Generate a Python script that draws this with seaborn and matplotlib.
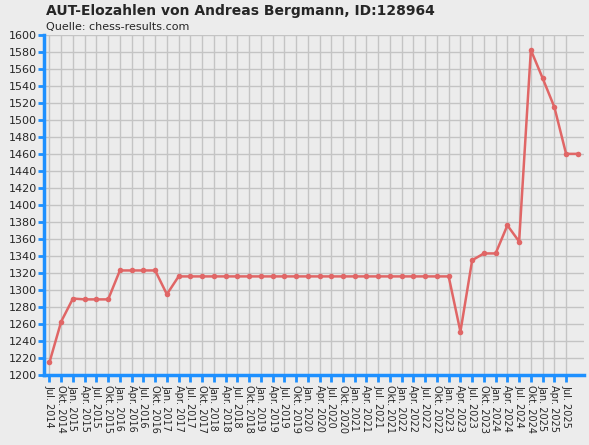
import matplotlib
matplotlib.use('Agg')
import matplotlib.pyplot as plt
import seaborn as sns
import pandas as pd

months = ['Jan.', 'Apr.', 'Jul.', 'Okt.']
labels = []
for y in range(2014, 2026):
    for m in months:
        labels.append(m + ' ' + str(y))
labels = labels[2:47]

elo = [1215, 1263, 1290, 1289, 1289, 1289, 1323, 1323, 1323, 1323,
       1295, 1316] + [1316] * 23 + [1251, 1335, 1343, 1343, 1376, 1357,
       1582, 1549, 1515, 1460, 1460]

df = pd.DataFrame({'idx': range(len(elo)), 'elo': elo})

sns.set_style('whitegrid')
plt.rcParams['font.family'] = ['DejaVu Sans']
bg = '#ececec'
blue = '#1e90ff'
f = plt.figure(figsize=(5.89, 4.45), dpi=100, facecolor=bg)
ax = f.add_axes([0.075, 0.157, 0.917, 0.765])
ax.set_facecolor(bg)
sns.lineplot(data=df, x='idx', y='elo', ax=ax, color='#e06666', lw=1.8,
             marker='o', markersize=4, markeredgewidth=0)
ax.set_xlim(-0.45, len(elo) - 0.45)
ax.set_ylim(1200, 1600)
ax.set_yticks(range(1200, 1601, 20))
ax.set_xticks(range(len(labels)))
ax.set_xticklabels(labels, rotation=-90, fontsize=7, ha='center', va='top')
ax.tick_params(axis='y', labelsize=8, length=4, width=2, color=blue, left=True, pad=1)
ax.tick_params(axis='x', length=5, width=2, color=blue, bottom=True, pad=2)
ax.grid(True, color='#c4c4c4', lw=1)
for s in ['top', 'right']:
    ax.spines[s].set_visible(False)
for s in ['left', 'bottom']:
    ax.spines[s].set_color(blue)
    ax.spines[s].set_linewidth(2.5)
ax.set_xlabel('')
ax.set_ylabel('')
f.text(0.078, 0.967, 'AUT-Elozahlen von Andreas Bergmann, ID:128964',
       fontsize=10, fontweight='bold')
f.text(0.078, 0.932, 'Quelle: chess-results.com', fontsize=8)
plt.savefig('out.png', dpi=100, facecolor=bg)
